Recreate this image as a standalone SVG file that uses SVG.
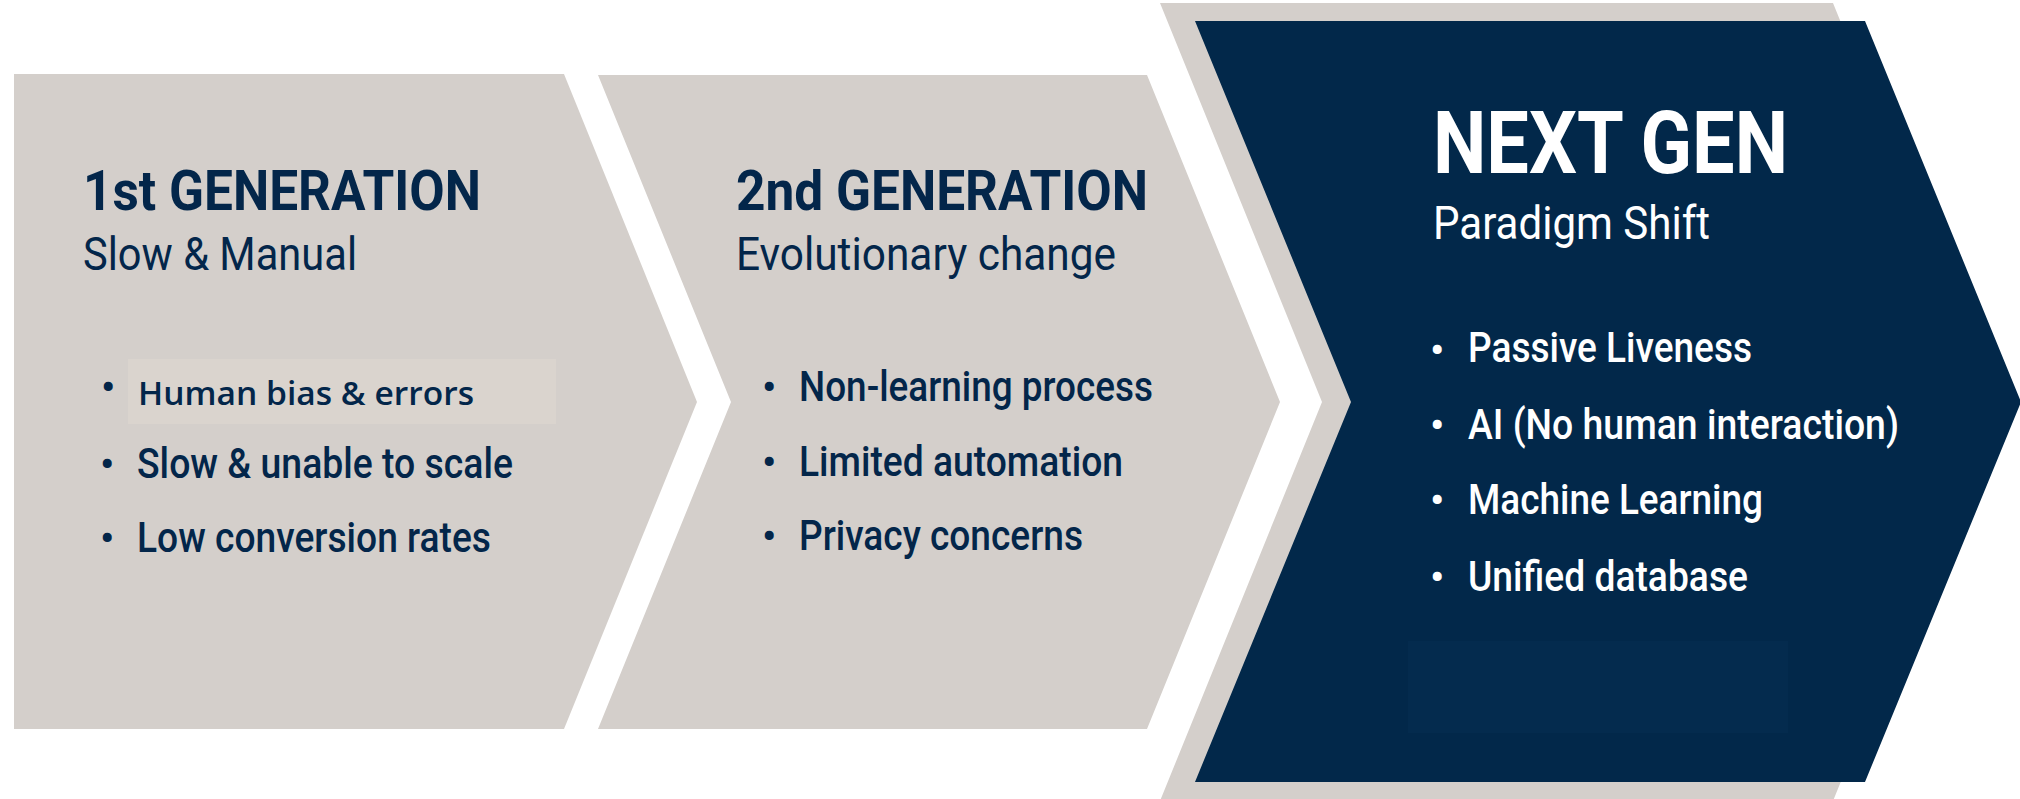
<svg xmlns="http://www.w3.org/2000/svg" width="2020" height="799" viewBox="0 0 2020 799">
  <style>
    .panel { fill: #d4cfcb; }
    .navy { fill: #02284a; }
    .t { font-family: Roboto, "Liberation Sans", sans-serif; }
    .dark { fill: #03264a; }
    .light { fill: #ffffff; }
    .title { font-weight: 700; font-size: 56px; }
    .sub { font-weight: 400; font-size: 46px; }
    .item { font-weight: 500; font-size: 42px; }
    .dot { font-weight: 500; font-size: 41px; }
    .alt { font-family: "Open Sans", "Liberation Sans", sans-serif; font-weight: 600; font-size: 33px; }
  </style>
  <rect width="2020" height="799" fill="#ffffff"/>

  <!-- Stage 1 -->
  <g id="gen1">
    <polygon class="panel" points="14,74 564,74 697,402 564,729 14,729"/>
    <text class="t dark title" x="83" y="210" textLength="398" lengthAdjust="spacingAndGlyphs">1st GENERATION</text>
    <text class="t dark sub" x="83" y="270" textLength="274" lengthAdjust="spacingAndGlyphs">Slow &amp; Manual</text>
    <rect x="128" y="359" width="428" height="65" fill="#dad4ce"/>
    <text class="t dark dot" x="101" y="401">•</text>
    <text class="alt dark" x="138" y="405" textLength="336" lengthAdjust="spacingAndGlyphs">Human bias &amp; errors</text>
    <text class="t dark dot" x="100" y="478">•</text>
    <text class="t dark item" x="137" y="478" textLength="376" lengthAdjust="spacingAndGlyphs">Slow &amp; unable to scale</text>
    <text class="t dark dot" x="100" y="552">•</text>
    <text class="t dark item" x="137" y="552" textLength="354" lengthAdjust="spacingAndGlyphs">Low conversion rates</text>
  </g>

  <!-- Stage 2 -->
  <g id="gen2">
    <polygon class="panel" points="598,75 1147,75 1280,402 1147,729 598,729 731,402"/>
    <text class="t dark title" x="736" y="210" textLength="412" lengthAdjust="spacingAndGlyphs">2nd GENERATION</text>
    <text class="t dark sub" x="736" y="270" textLength="380" lengthAdjust="spacingAndGlyphs">Evolutionary change</text>
    <text class="t dark dot" x="762" y="401">•</text>
    <text class="t dark item" x="799" y="401" textLength="354" lengthAdjust="spacingAndGlyphs">Non-learning process</text>
    <text class="t dark dot" x="762" y="476">•</text>
    <text class="t dark item" x="799" y="476" textLength="324" lengthAdjust="spacingAndGlyphs">Limited automation</text>
    <text class="t dark dot" x="762" y="550">•</text>
    <text class="t dark item" x="799" y="550" textLength="284" lengthAdjust="spacingAndGlyphs">Privacy concerns</text>
  </g>

  <!-- Stage 3: grey backing chevron with the navy chevron on top -->
  <g id="nextgen">
    <polygon class="panel" points="1160,3 1833,3 1995,402 1833,801 1160,801 1322,402"/>
    <polygon class="navy" points="1195,21 1865,21 2021,402 1865,782 1195,782 1351,402"/>
    <rect x="1408" y="641" width="380" height="92" fill="#042b4e"/>
    <text class="t light" x="1433" y="173" font-weight="700" font-size="87" textLength="355" lengthAdjust="spacingAndGlyphs">NEXT GEN</text>
    <text class="t light sub" x="1433" y="239" textLength="277" lengthAdjust="spacingAndGlyphs">Paradigm Shift</text>
    <text class="t light dot" x="1430" y="364">•</text>
    <text class="t light item" x="1468" y="362" textLength="284" lengthAdjust="spacingAndGlyphs">Passive Liveness</text>
    <text class="t light dot" x="1430" y="439">•</text>
    <text class="t light item" x="1468" y="439" textLength="431" lengthAdjust="spacingAndGlyphs">AI (No human interaction)</text>
    <text class="t light dot" x="1430" y="514">•</text>
    <text class="t light item" x="1468" y="514" textLength="295" lengthAdjust="spacingAndGlyphs">Machine Learning</text>
    <text class="t light dot" x="1430" y="591">•</text>
    <text class="t light item" x="1468" y="591" textLength="280" lengthAdjust="spacingAndGlyphs">Unified database</text>
  </g>

  <!-- no connectors: the chevrons abut directly -->
  <g id="connectors"/>
</svg>
